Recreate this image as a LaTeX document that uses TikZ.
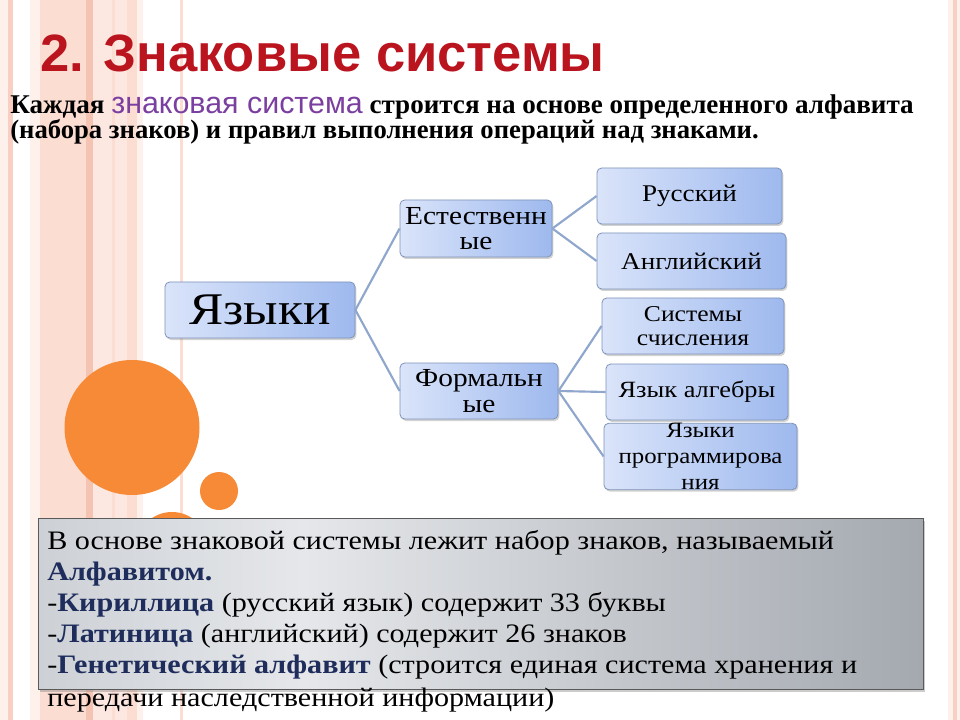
\documentclass[tikz,border=0pt]{standalone}
\usepackage{fontspec}
\setmainfont{Liberation Serif}
\newfontfamily\titlefont{Liberation Sans}
\newfontfamily\purplefont{Liberation Sans}
\newfontfamily\cmfont[FakeStretch=1.13]{Liberation Serif}
\usetikzlibrary{shadows}
\definecolor{titlered}{HTML}{BA141E}
\definecolor{purp}{HTML}{7B3FA0}
\definecolor{navy}{HTML}{1F2D5C}
\definecolor{orng}{HTML}{F68A36}
\definecolor{lnk}{HTML}{8FA7CC}
\definecolor{bxb}{HTML}{7F93B8}
\definecolor{bxl}{HTML}{DAE4FA}
\definecolor{bxr}{HTML}{9EB9EE}
\definecolor{pk1}{HTML}{F9CFC3}
\definecolor{pk2}{HTML}{FCDDD2}
\definecolor{pk3}{HTML}{F4C3B2}
\definecolor{pk4}{HTML}{FDE8E1}
\definecolor{pk5}{HTML}{FEF1EB}
\definecolor{gA}{HTML}{CDD1D6}
\definecolor{gB}{HTML}{E5E7EA}
\definecolor{gC}{HTML}{A4A9B0}
\pgfdeclarehorizontalshading{boxshade}{100bp}{color(0bp)=(gA); color(25bp)=(gA); color(40bp)=(gB); color(75bp)=(gC); color(100bp)=(gC)}
\tikzset{
  langbox/.style={draw=bxb, line width=0.6pt, rounded corners=3.5pt,
    left color=bxl, right color=bxr, inner sep=0pt, align=center,
    drop shadow={opacity=0.35, shadow xshift=1pt, shadow yshift=-1.5pt}},
  link/.style={draw=lnk, line width=1.6pt},
  blt/.style={anchor=base west, inner sep=0pt, font=\cmfont\fontsize{20}{22}\selectfont},
}
\begin{document}
\begin{tikzpicture}[x=0.75pt,y=-0.75pt]
\useasboundingbox (0,0) rectangle (960,720);
\fill[white] (0,0) rectangle (960,720);
% left stripes
\fill[pk5] (0,0) rectangle (8,720);
\fill[pk1] (8,0) rectangle (13,720);
\fill[pk5] (30,0) rectangle (40,720);
\fill[pk2] (40,0) rectangle (86,720);
\fill[pk3] (86,0) rectangle (93,720);
\fill[pk4] (93,0) rectangle (112,720);
\fill[pk2] (112,0) rectangle (115,720);
\fill[pk4] (115,0) rectangle (127,720);
\fill[pk2] (127,0) rectangle (137,720);
\fill[pk5] (137,0) rectangle (143,720);
\fill[pk2] (180,0) rectangle (183,720);
% right stripes
\fill[pk5] (948,0) rectangle (953,720);
\fill[pk1] (953,0) rectangle (957,720);
\fill[pk5] (957,0) rectangle (960,720);
% circles
\fill[orng] (132,427.5) circle[radius=67.5];
\fill[orng] (219,491) circle[radius=19];
\fill[orng] (172,548) circle[radius=36];
% title
\node[anchor=base west, inner sep=0pt, text=titlered, font=\titlefont\bfseries\fontsize{39.4}{40}\selectfont] (title) at (40,72) {2. Знаковые системы};
% subtitle
\node[anchor=base west, inner sep=0pt, font=\bfseries\fontsize{20.3}{22}\selectfont] (sub1) at (10,114)
  {Каждая {\purplefont\mdseries\color{purp}\fontsize{22.8}{22}\selectfont знаковая система} строится на основе определенного алфавита};
\node[anchor=base west, inner sep=0pt, font=\bfseries\fontsize{20}{22}\selectfont] (sub2) at (10,139)
  {(набора знаков) и правил выполнения операций над знаками.};
% boxes
\node[langbox, minimum width=142.5pt, minimum height=42pt, font=\cmfont\fontsize{34}{36}\selectfont] (lang) at (260,310) {Языки};
\node[langbox, minimum width=114pt, minimum height=42.75pt, font=\cmfont\fontsize{19.5}{19}\selectfont] (nat) at (476,228.5) {Естественн\\ые};
\node[langbox, minimum width=118.5pt, minimum height=42pt, font=\cmfont\fontsize{19.5}{19}\selectfont] (form) at (479,391) {Формальн\\ые};
\node[langbox, minimum width=138.75pt, minimum height=42pt, font=\cmfont\fontsize{18}{18}\selectfont] (rus) at (689.5,196) {Русский};
\node[langbox, minimum width=141.75pt, minimum height=42pt, font=\cmfont\fontsize{18}{18}\selectfont] (eng) at (691.5,261) {Английский};
\node[langbox, minimum width=136.5pt, minimum height=42pt, font=\cmfont\fontsize{17}{17.5}\selectfont] (sys) at (693,326) {Системы\\счисления};
\node[langbox, minimum width=136.5pt, minimum height=42pt, font=\cmfont\fontsize{17.5}{18}\selectfont] (alg) at (697,392) {Язык алгебры};
\node[langbox, minimum width=144.75pt, minimum height=41.25pt, font=\cmfont\fontsize{16.5}{19.5}\selectfont] (prog) at (700.5,456.5) {Языки\\программирова\\ния};
% links
\draw[link] (lang.east) -- (nat.west);
\draw[link] (lang.east) -- (form.west);
\draw[link] (nat.east) -- (rus.west);
\draw[link] (nat.east) -- (eng.west);
\draw[link] (form.east) -- (sys.west);
\draw[link] (form.east) -- (alg.west);
\draw[link] (form.east) -- (prog.west);
% bottom box
\path[draw=black!65, line width=0.6pt, shading=boxshade,
  drop shadow={opacity=0.4, shadow xshift=1.5pt, shadow yshift=-2pt}]
  (38,518) rectangle (923,689);
\node[blt] (l1) at (47,549) {В основе знаковой системы лежит набор знаков, называемый};
\node[blt, text=navy, font=\cmfont\bfseries\fontsize{20}{22}\selectfont] (l2) at (47,580) {Алфавитом.};
\node[blt] (l3) at (47,611) {-{\bfseries\color{navy}Кириллица} (русский язык) содержит 33 буквы};
\node[blt] (l4) at (47,642) {-{\bfseries\color{navy}Латиница} (английский) содержит 26 знаков};
\node[blt] (l5) at (47,673) {-{\bfseries\color{navy}Генетический алфавит} (строится единая система хранения и};
\node[blt] (l6) at (47,706) {передачи наследственной информации)};
\end{tikzpicture}
\end{document}
